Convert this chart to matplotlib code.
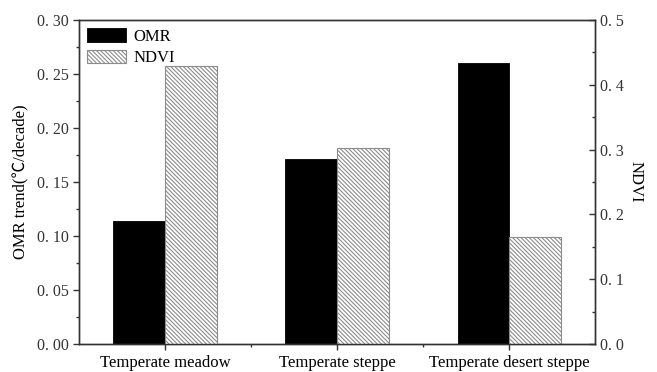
import matplotlib
matplotlib.use("Agg")
import matplotlib.pyplot as plt
from matplotlib.ticker import MultipleLocator, FuncFormatter
import numpy as np

categories = ["Temperate meadow", "Temperate steppe", "Temperate desert steppe"]
omr_trend = [0.114, 0.171, 0.260]
ndvi = [0.429, 0.302, 0.165]

plt.rcParams.update({"font.family": ["Liberation Serif", "Noto Sans CJK SC"],
                     "hatch.color": "#8c8c8c", "hatch.linewidth": 0.8})
SP = "#333333"

fig = plt.figure(figsize=(6.57, 3.72), dpi=100)
ax = fig.add_axes([0.12, 0.075, 0.786, 0.871])
ax2 = ax.twinx()

x = np.arange(len(categories)); w = 0.30
ax.bar(x - w/2, omr_trend, w, color="black", edgecolor="black", lw=0.6, label="OMR")
ax2.bar(x + w/2, ndvi, w, color="white", edgecolor="#8c8c8c", lw=0.8,
        hatch="\\" * 8, label="NDVI")

ax.set_xlim(-0.5, 2.5)
ax.set_ylim(0, 0.30); ax2.set_ylim(0, 0.5)
ax.set_xticks(x, categories)
ax.set_xticks([0.5, 1.5], minor=True)
ax.yaxis.set_major_locator(MultipleLocator(0.05)); ax.yaxis.set_minor_locator(MultipleLocator(0.025))
ax2.yaxis.set_major_locator(MultipleLocator(0.1)); ax2.yaxis.set_minor_locator(MultipleLocator(0.05))
ax.yaxis.set_major_formatter(FuncFormatter(lambda v, p: f"{v:.2f}".replace(".", ". ")))
ax2.yaxis.set_major_formatter(FuncFormatter(lambda v, p: f"{v:.1f}".replace(".", ". ")))

for a in (ax, ax2):
    for s in a.spines.values():
        s.set_color(SP); s.set_linewidth(1.0)
ax.tick_params(axis="both", which="major", direction="out", length=4, width=1, color=SP,
               labelsize=11.5, labelcolor="#333333")
ax.tick_params(axis="both", which="minor", direction="out", length=2, width=1, color=SP)
ax.tick_params(axis="x", labelsize=12, labelcolor="black")
ax2.tick_params(axis="y", which="major", direction="in", length=4, width=1, color=SP,
                labelsize=11.5, labelcolor="#333333")
ax2.tick_params(axis="y", which="minor", direction="in", length=2, width=1, color=SP)

ax.set_ylabel("OMR trend(℃/decade)", fontsize=12, labelpad=5)
ax2.set_ylabel("NDVI", fontsize=12, rotation=270, labelpad=14)

h1, l1 = ax.get_legend_handles_labels(); h2, l2 = ax2.get_legend_handles_labels()
ax2.legend(h1 + h2, l1 + l2, loc="upper left", frameon=False, fontsize=12,
           handlelength=2.3, handleheight=0.85, handletextpad=0.5, labelspacing=0.3,
           borderaxespad=0.2, borderpad=0.3)

fig.savefig("out.png")
